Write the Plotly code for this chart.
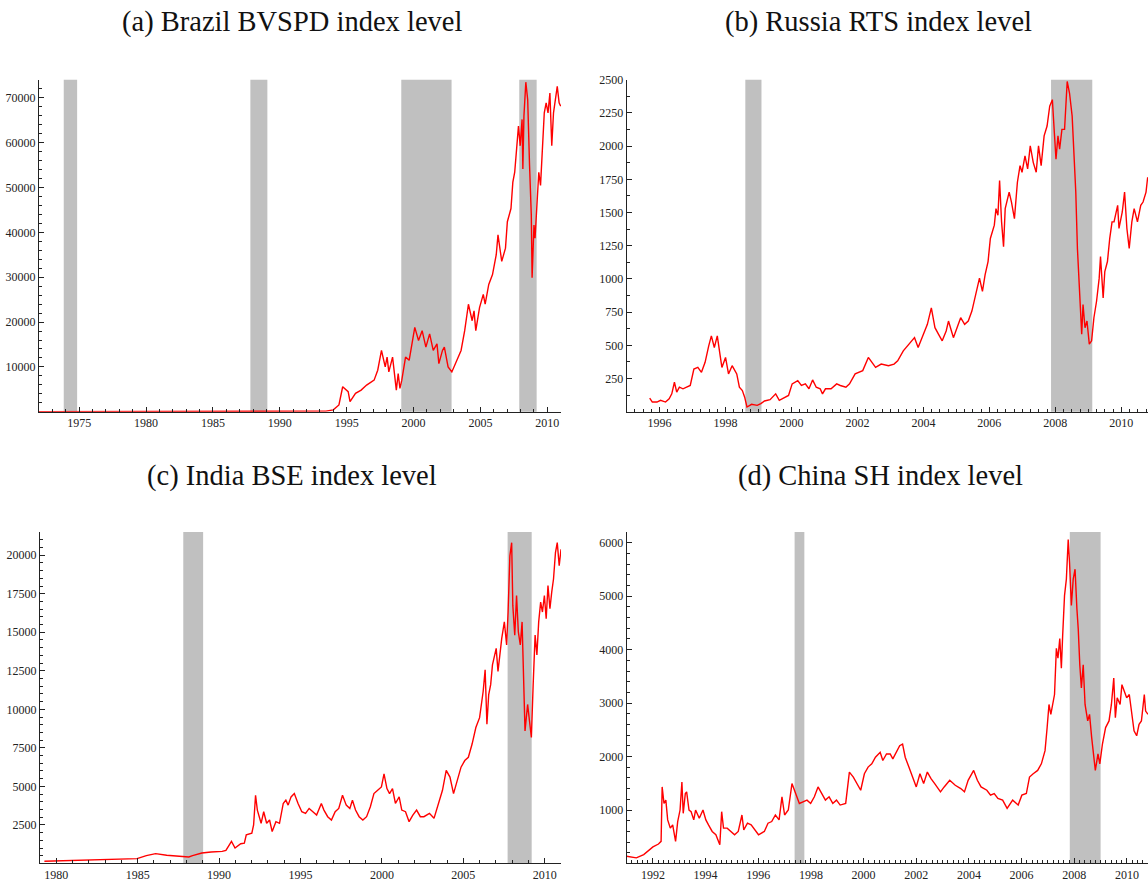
import plotly.graph_objects as go

# ---------------- data ----------------
brazil_year = [1972.0, 1985.0, 1993.0, 1993.45, 1994.0, 1994.42, 1994.70, 1994.83, 1995.11, 1995.25,
               1995.66, 1996.08, 1996.49, 1997.05, 1997.32, 1997.60, 1997.88, 1998.02, 1998.15, 1998.43,
               1998.71, 1998.85, 1998.98, 1999.12, 1999.40, 1999.67, 2000.09, 2000.37, 2000.64, 2000.92,
               2001.20, 2001.47, 2001.75, 2001.89, 2002.16, 2002.30, 2002.58, 2002.86, 2003.13, 2003.55,
               2003.82, 2004.10, 2004.38, 2004.52, 2004.65, 2004.93, 2005.21, 2005.35, 2005.62, 2005.90,
               2006.18, 2006.31, 2006.59, 2006.87, 2007.01, 2007.28, 2007.42, 2007.56, 2007.70, 2007.84,
               2007.97, 2008.11, 2008.17, 2008.25, 2008.39, 2008.53, 2008.67, 2008.80, 2008.86, 2009.00,
               2009.08, 2009.22, 2009.36, 2009.49, 2009.63, 2009.77, 2009.91, 2010.05, 2010.19, 2010.33,
               2010.46, 2010.60, 2010.74, 2010.88, 2011.0]
brazil_level = [0, 0, 30, 150, 430, 1530, 5580, 5210, 4480, 2270,
                4110, 4840, 5950, 7050, 9260, 13680, 10000, 12200, 8890, 12200,
                4840, 8520, 5210, 7050, 12200, 11470, 18830, 15880, 18090, 14410,
                17360, 13680, 15150, 10730, 13680, 14410, 10000, 8890, 10730, 13680,
                18090, 23980, 20300, 22510, 18090, 23240, 26190, 23980, 28400, 30600,
                35020, 39440, 33550, 36490, 42380, 45320, 51210, 53420, 58570, 63720,
                59310, 65200, 54160, 65930, 73500, 69610, 54890, 43850, 29870, 41640,
                38700, 45320, 53420, 50480, 60040, 66670, 68880, 66670, 71080, 59310,
                66670, 69610, 72560, 68880, 68140]

russia_year = [1995.70, 1995.78, 1995.92, 1996.03, 1996.18, 1996.29, 1996.37, 1996.45, 1996.52, 1996.60,
               1996.71, 1996.82, 1996.93, 1997.04, 1997.16, 1997.27, 1997.38, 1997.49, 1997.57, 1997.66,
               1997.75, 1997.83, 1997.89, 1998.00, 1998.09, 1998.20, 1998.34, 1998.42, 1998.51, 1998.58,
               1998.65, 1998.79, 1998.96, 1999.07, 1999.18, 1999.35, 1999.52, 1999.63, 1999.80, 1999.91,
               2000.02, 2000.19, 2000.30, 2000.42, 2000.53, 2000.64, 2000.75, 2000.87, 2000.94, 2001.03,
               2001.20, 2001.37, 2001.48, 2001.65, 2001.76, 2001.93, 2002.16, 2002.33, 2002.44, 2002.55,
               2002.72, 2002.94, 2003.11, 2003.22, 2003.39, 2003.56, 2003.73, 2003.84, 2004.01, 2004.12,
               2004.24, 2004.35, 2004.46, 2004.57, 2004.69, 2004.76, 2004.85, 2004.91, 2005.02, 2005.13,
               2005.25, 2005.36, 2005.47, 2005.58, 2005.70, 2005.79, 2005.87, 2005.96, 2006.03, 2006.15,
               2006.20, 2006.26, 2006.31, 2006.37, 2006.43, 2006.48, 2006.60, 2006.67, 2006.76, 2006.85,
               2006.93, 2006.99, 2007.08, 2007.16, 2007.24, 2007.33, 2007.42, 2007.49, 2007.57, 2007.66,
               2007.75, 2007.83, 2007.91, 2007.97, 2008.02, 2008.08, 2008.13, 2008.20, 2008.28, 2008.36,
               2008.43, 2008.51, 2008.56, 2008.62, 2008.67, 2008.71, 2008.75, 2008.80, 2008.84, 2008.90,
               2008.96, 2009.03, 2009.10, 2009.17, 2009.25, 2009.33, 2009.37, 2009.45, 2009.50, 2009.58,
               2009.65, 2009.72, 2009.78, 2009.89, 2009.93, 2010.03, 2010.10, 2010.17, 2010.24, 2010.32,
               2010.39, 2010.49, 2010.59, 2010.66, 2010.75, 2010.80]
russia_level = [103, 73, 73, 86, 73, 98, 135, 222, 148, 185,
                173, 185, 198, 322, 334, 297, 372, 496, 571, 484,
                571, 434, 334, 409, 285, 347, 285, 185, 160, 110,
                36, 56, 48, 61, 81, 91, 135, 86, 110, 123,
                210, 235, 198, 210, 173, 240, 185, 173, 135, 173,
                173, 210, 198, 185, 210, 285, 310, 409, 372, 334,
                359, 347, 359, 384, 459, 509, 558, 484, 583, 658,
                782, 633, 583, 534, 608, 683, 608, 558, 633, 708,
                658, 683, 758, 882, 1006, 907, 1031, 1131, 1305, 1405,
                1529, 1479, 1741, 1430, 1243, 1529, 1654, 1579, 1454, 1728,
                1853, 1803, 1927, 1828, 2002, 1878, 1803, 2002, 1853, 2077,
                2151, 2301, 2350, 2102, 1902, 2077, 1977, 2126, 2126, 2487,
                2400, 2226, 1952, 1654, 1230, 1056, 807, 583, 807, 633,
                683, 509, 534, 708, 832, 1006, 1168, 857, 1056, 1131,
                1305, 1430, 1430, 1554, 1380, 1504, 1654, 1380, 1230, 1430,
                1529, 1430, 1554, 1579, 1654, 1766]

india_year = [1979.27, 1981.09, 1982.00, 1983.37, 1984.96, 1985.53, 1986.10, 1986.78, 1987.46, 1988.14,
              1988.37, 1988.94, 1989.51, 1990.19, 1990.42, 1990.76, 1990.98, 1991.33, 1991.55, 1991.67,
              1992.01, 1992.12, 1992.24, 1992.35, 1992.58, 1992.74, 1992.92, 1993.10, 1993.26, 1993.49,
              1993.71, 1993.94, 1994.10, 1994.24, 1994.42, 1994.62, 1994.85, 1995.08, 1995.31, 1995.53,
              1995.76, 1995.99, 1996.28, 1996.44, 1996.67, 1996.90, 1997.13, 1997.35, 1997.58, 1997.81,
              1998.03, 1998.19, 1998.38, 1998.60, 1998.83, 1999.06, 1999.29, 1999.51, 1999.74, 1999.97,
              2000.13, 2000.31, 2000.47, 2000.65, 2000.83, 2001.06, 2001.22, 2001.45, 2001.67, 2001.90,
              2002.13, 2002.36, 2002.58, 2002.92, 2003.20, 2003.49, 2003.72, 2003.95, 2004.18, 2004.40,
              2004.63, 2004.86, 2005.09, 2005.31, 2005.54, 2005.77, 2006.00, 2006.22, 2006.34, 2006.45,
              2006.56, 2006.68, 2006.79, 2007.02, 2007.13, 2007.25, 2007.36, 2007.52, 2007.66, 2007.75,
              2007.86, 2007.97, 2008.04, 2008.16, 2008.27, 2008.38, 2008.50, 2008.61, 2008.72, 2008.79,
              2008.95, 2009.07, 2009.18, 2009.29, 2009.41, 2009.52, 2009.63, 2009.75, 2009.86, 2009.98,
              2010.09, 2010.20, 2010.32, 2010.43, 2010.54, 2010.66, 2010.77, 2010.89, 2011.00]
india_level = [144, 208, 251, 251, 315, 508, 636, 529, 465, 422,
               508, 679, 743, 786, 850, 1429, 1000, 1279, 1322, 1857,
               1964, 2500, 4428, 3464, 2607, 3357, 2607, 2821, 2071, 2714,
               2607, 3892, 4106, 3785, 4320, 4535, 3892, 3357, 3249, 3571,
               3357, 3142, 3892, 3464, 3035, 2821, 3357, 3571, 4428, 3785,
               3571, 4106, 3464, 3035, 2821, 3035, 3678, 4535, 4749, 4963,
               5820, 4856, 4535, 4856, 3892, 4320, 3464, 3357, 2714, 3142,
               3464, 3035, 3035, 3249, 2928, 3892, 4749, 6034, 5606, 4535,
               5391, 6248, 6677, 6891, 7748, 8819, 9461, 11175, 12567, 9033,
               10961, 11603, 12888, 13959, 12460, 13745, 14602, 15673, 14174, 16316,
               19957, 20814, 16744, 14816, 17387, 15030, 14174, 15673, 10961, 8604,
               10318, 9033, 8176, 11603, 14816, 13531, 15673, 16958, 16316, 17387,
               15887, 18029, 16530, 17601, 18458, 20171, 20814, 19314, 20385]

china_year = [1991.00, 1991.37, 1991.65, 1991.79, 1992.00, 1992.21, 1992.31, 1992.35, 1992.42, 1992.49,
              1992.56, 1992.66, 1992.75, 1992.86, 1992.94, 1993.03, 1993.10, 1993.15, 1993.23, 1993.28,
              1993.37, 1993.45, 1993.55, 1993.62, 1993.76, 1993.90, 1994.01, 1994.11, 1994.25, 1994.39,
              1994.54, 1994.61, 1994.68, 1994.82, 1994.96, 1995.10, 1995.24, 1995.38, 1995.45, 1995.59,
              1995.73, 1995.87, 1996.01, 1996.23, 1996.37, 1996.51, 1996.65, 1996.79, 1996.90, 1997.00,
              1997.14, 1997.28, 1997.42, 1997.56, 1997.70, 1997.85, 1997.99, 1998.13, 1998.27, 1998.41,
              1998.55, 1998.69, 1998.83, 1998.97, 1999.11, 1999.32, 1999.46, 1999.61, 1999.75, 1999.89,
              2000.03, 2000.17, 2000.31, 2000.45, 2000.63, 2000.73, 2000.87, 2001.01, 2001.11, 2001.23,
              2001.37, 2001.48, 2001.58, 2001.72, 2001.86, 2002.00, 2002.14, 2002.28, 2002.42, 2002.56,
              2002.70, 2002.92, 2003.06, 2003.27, 2003.48, 2003.69, 2003.83, 2003.97, 2004.18, 2004.32,
              2004.46, 2004.68, 2004.82, 2004.96, 2005.10, 2005.28, 2005.45, 2005.66, 2005.87, 2006.01,
              2006.18, 2006.30, 2006.44, 2006.61, 2006.75, 2006.89, 2006.97, 2007.04, 2007.11, 2007.17,
              2007.25, 2007.32, 2007.38, 2007.45, 2007.51, 2007.56, 2007.63, 2007.70, 2007.77, 2007.82,
              2007.89, 2007.96, 2008.03, 2008.10, 2008.15, 2008.21, 2008.27, 2008.34, 2008.41, 2008.51,
              2008.58, 2008.66, 2008.73, 2008.80, 2008.90, 2008.97, 2009.07, 2009.19, 2009.32, 2009.41,
              2009.50, 2009.56, 2009.63, 2009.74, 2009.81, 2009.89, 2009.99, 2010.09, 2010.18, 2010.27,
              2010.37, 2010.46, 2010.55, 2010.66, 2010.71, 2010.80]
china_level = [136, 105, 167, 228, 309, 364, 414, 1432, 1123, 1185,
               815, 661, 722, 414, 784, 1000, 1525, 938, 1309, 1340,
               1000, 969, 815, 1000, 846, 1000, 815, 722, 599, 537,
               352, 969, 661, 661, 599, 537, 599, 907, 630, 753,
               722, 630, 537, 599, 753, 784, 907, 815, 1247, 907,
               1000, 1494, 1309, 1123, 1154, 1185, 1123, 1247, 1432, 1309,
               1185, 1247, 1123, 1185, 1093, 1123, 1710, 1617, 1494, 1370,
               1679, 1803, 1864, 1988, 2080, 1926, 2049, 2049, 1957, 2080,
               2204, 2235, 1988, 1803, 1617, 1432, 1679, 1494, 1710, 1586,
               1494, 1340, 1432, 1556, 1463, 1401, 1340, 1556, 1741, 1556,
               1432, 1370, 1278, 1309, 1216, 1185, 1031, 1185, 1093, 1278,
               1309, 1617, 1679, 1741, 1864, 2111, 2543, 2975, 2790, 2975,
               3161, 4025, 3840, 4210, 3654, 4272, 5012, 5321, 6062, 5630,
               4827, 5321, 5506, 4766, 4395, 3716, 3284, 3716, 2975, 2667,
               2790, 2358, 1988, 1741, 2049, 1864, 2235, 2543, 2667, 2975,
               3469, 2728, 3099, 2975, 3346, 3222, 3099, 3161, 2790, 2482,
               2389, 2605, 2667, 3161, 2852, 2790]

# shaded crisis periods (start, end) per panel
brazil_crises = [(1973.85, 1974.85), (1987.8, 1989.07), (1999.08, 2002.84), (2007.9, 2009.2)]
russia_crises = [(1998.6, 1999.09), (2007.87, 2009.12)]
india_crises = [(1987.8, 1989.02), (2007.72, 2009.2)]
china_crises = [(1997.38, 1997.75), (2007.83, 2009.0)]

titles = ["(a) Brazil BVSPD index level", "(b) Russia RTS index level",
          "(c) India BSE index level", "(d) China SH index level"]

brazil_xticks = [1975, 1980, 1985, 1990, 1995, 2000, 2005, 2010]
brazil_yticks = [10000, 20000, 30000, 40000, 50000, 60000, 70000]
russia_xticks = [1996, 1998, 2000, 2002, 2004, 2006, 2008, 2010]
russia_yticks = [250, 500, 750, 1000, 1250, 1500, 1750, 2000, 2250, 2500]
india_xticks = [1980, 1985, 1990, 1995, 2000, 2005, 2010]
india_yticks = [2500, 5000, 7500, 10000, 12500, 15000, 17500, 20000]
china_xticks = [1992, 1994, 1996, 1998, 2000, 2002, 2004, 2006, 2008, 2010]
china_yticks = [1000, 2000, 3000, 4000, 5000, 6000]

# ---------------- figure ----------------
W, H = 1148, 884
SERIF = "Liberation Serif"

fig = go.Figure()

panels = [
    dict(x=brazil_year, y=brazil_level, crises=brazil_crises, xr=[1972.0, 2011.02], yr=[0, 74050],
         xt=brazil_xticks, yt=brazil_yticks, xminor=1, yminor=2000,
         xdom=[39 / W, 561 / W], ydom=[1 - 408 / H, 1 - 73.3 / H]),
    dict(x=russia_year, y=russia_level, crises=russia_crises, xr=[1995.0, 2010.81], yr=[0, 2500],
         xt=russia_xticks, yt=russia_yticks, xminor=0.25, yminor=125,
         xdom=[626.6 / W, 1.0], ydom=[1 - 408 / H, 1 - 73.3 / H]),
    dict(x=india_year, y=india_level, crises=india_crises, xr=[1979.0, 2011.0], yr=[0, 21500],
         xt=india_xticks, yt=india_yticks, xminor=1, yminor=500,
         xdom=[40 / W, 561 / W], ydom=[1 - 863.3 / H, 1 - 529.3 / H]),
    dict(x=china_year, y=china_level, crises=china_crises, xr=[1991.0, 2010.80], yr=[0, 6200],
         xt=china_xticks, yt=china_yticks, xminor=0.2, yminor=200,
         xdom=[626.6 / W, 1.0], ydom=[1 - 863.3 / H, 1 - 529.3 / H]),
]

shapes = []
layout_axes = {}
for i, p in enumerate(panels, start=1):
    sfx = "" if i == 1 else str(i)
    fig.add_trace(go.Scatter(x=p["x"], y=p["y"], mode="lines",
                             line=dict(color="#ff0000", width=1.4),
                             xaxis="x" + sfx, yaxis="y" + sfx,
                             showlegend=False, hoverinfo="skip"))
    for (a, b) in p["crises"]:
        shapes.append(dict(type="rect", xref="x" + sfx, yref="y" + sfx + " domain",
                           x0=a, x1=b, y0=0, y1=1, fillcolor="#c0c0c0",
                           line=dict(width=0), layer="below"))
    common = dict(showline=True, linecolor="#222", linewidth=1, showgrid=False,
                  zeroline=False, ticks="inside", ticklen=5, tickwidth=1, tickcolor="#222",
                  tickfont=dict(family=SERIF, size=12, color="#222"))
    layout_axes["xaxis" + sfx] = dict(common, domain=p["xdom"], range=p["xr"],
                                      anchor="y" + sfx, tickvals=p["xt"],
                                      ticktext=[str(v) for v in p["xt"]],
                                      minor=dict(ticks="inside", ticklen=3, dtick=p["xminor"],
                                                 tickcolor="#222", showgrid=False))
    layout_axes["yaxis" + sfx] = dict(common, domain=p["ydom"], range=p["yr"],
                                      anchor="x" + sfx, tickvals=p["yt"],
                                      ticktext=[str(v) for v in p["yt"]],
                                      minor=dict(ticks="inside", ticklen=3, dtick=p["yminor"],
                                                 tickcolor="#222", showgrid=False))

title_pos = [(292, 15), (878, 15), (292, 473), (880, 473)]
annotations = []
for t, (px, py) in zip(titles, title_pos):
    annotations.append(dict(text=t, x=px / W, y=1 - py / H, xref="paper", yref="paper",
                            xanchor="center", yanchor="middle", showarrow=False,
                            font=dict(family=SERIF, size=28.5, color="#111")))

fig.update_layout(width=W, height=H, margin=dict(l=0, r=0, t=0, b=0),
                  paper_bgcolor="white", plot_bgcolor="white",
                  shapes=shapes, annotations=annotations, **layout_axes)

fig.write_html("out.html", config={"displayModeBar": False},
               post_script="document.body.style.margin='0';document.body.style.padding='0';")
